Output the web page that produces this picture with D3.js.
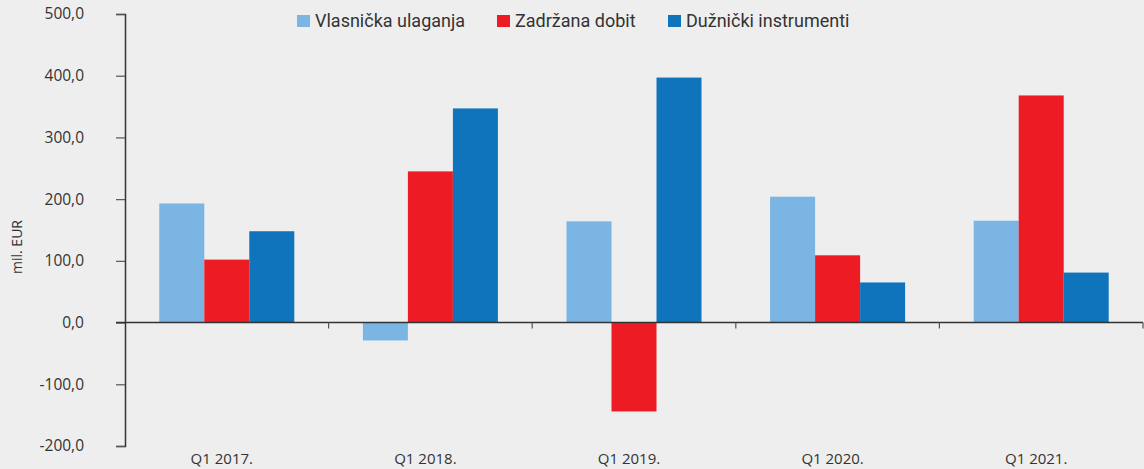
<!DOCTYPE html>
<html><head><meta charset="utf-8">
<script src="https://cdn.jsdelivr.net/npm/d3@7"></script>
<style>html,body{margin:0;padding:0;background:#eeeeee;}svg{display:block;}</style>
</head><body>
<script>
const categories = ["Q1 2017.", "Q1 2018.", "Q1 2019.", "Q1 2020.", "Q1 2021."];
const seriesNames = ["Vlasnička ulaganja", "Zadržana dobit", "Dužnički instrumenti"];
const vlasnicka = [193, -29, 164, 204, 165];
const zadrzana = [102, 245, -144, 109, 368];
const duznicki = [148, 347, 397, 65, 81];
const colors = ["#7ab5e3", "#ed1c24", "#0f74bb"];
const yTicks = [-200, -100, 0, 100, 200, 300, 400, 500];

(function () {
const W = 1144, H = 469;
const svg = d3.select("body").append("svg").attr("width", W).attr("height", H);
svg.append("rect").attr("width", W).attr("height", H).attr("fill", "#eeeeee");

const mLeft = 125, mRight = 1143, mTop = 14, mBottom = 446;
const y = d3.scaleLinear().domain([-200, 500]).range([mBottom, mTop]);
const x0 = d3.scaleBand().domain(categories).range([mLeft, mRight]).padding(0);
const x1 = d3.scaleBand().domain(seriesNames).range([0, x0.bandwidth()]).paddingInner(0).paddingOuter(0.762);

const seriesValues = [vlasnicka, zadrzana, duznicki];
const font = "'Open Sans', sans-serif";

// bars
categories.forEach((c, i) => {
  const g = svg.append("g").attr("transform", `translate(${x0(c)},0)`);
  seriesNames.forEach((s, j) => {
    const v = seriesValues[j][i];
    g.append("rect")
      .attr("x", x1(s))
      .attr("width", x1.bandwidth())
      .attr("y", y(Math.max(0, v)))
      .attr("height", Math.abs(y(v) - y(0)))
      .attr("fill", colors[j]);
  });
});

// y axis
const yAxis = d3.axisLeft(y).tickValues(yTicks).tickSize(9).tickPadding(32)
  .tickFormat(d => d3.format(".1f")(d).replace(".", ",").replace("−", "-"));
const ya = svg.append("g").attr("transform", `translate(${mLeft},0)`).call(yAxis);
ya.select(".domain").attr("stroke", "#333").attr("stroke-width", 1.5);
ya.selectAll(".tick line").attr("stroke", "#555").attr("stroke-width", 1.2);
ya.selectAll(".tick text").attr("fill", "#333").style("font-family", font).style("font-size", "15.5px");

// x axis at zero
const xa = svg.append("g").attr("transform", `translate(0,${y(0)})`);
xa.append("line").attr("x1", mLeft - 9).attr("x2", mRight).attr("y1", 0).attr("y2", 0)
  .attr("stroke", "#333").attr("stroke-width", 1.5);
categories.forEach(c => {
  const xb = x0(c) + x0.bandwidth();
  xa.append("line").attr("x1", xb).attr("x2", xb).attr("y1", 0).attr("y2", 6)
    .attr("stroke", "#555").attr("stroke-width", 1.2);
});

// category labels
svg.append("g").selectAll("text").data(categories).join("text")
  .attr("x", d => x0(d) + x0.bandwidth() / 2 - 5)
  .attr("y", 464)
  .attr("text-anchor", "middle")
  .attr("fill", "#333")
  .style("font-family", font).style("font-size", "15px")
  .text(d => d);

// y label
svg.append("text")
  .attr("transform", `translate(22,247) rotate(-90)`)
  .attr("text-anchor", "middle")
  .attr("fill", "#333")
  .style("font-family", font).style("font-size", "14px")
  .text("mil. EUR");

// legend
const legendX = [297, 497, 668];
seriesNames.forEach((s, j) => {
  svg.append("rect").attr("x", legendX[j]).attr("y", 15).attr("width", 13).attr("height", 12).attr("fill", colors[j]);
  svg.append("text").attr("x", legendX[j] + 18).attr("y", 27)
    .attr("fill", "#333")
    .style("font-family", "Roboto, sans-serif")
    .style("font-size", "18px")
    .text(s);
});
})();
</script>
</body></html>
